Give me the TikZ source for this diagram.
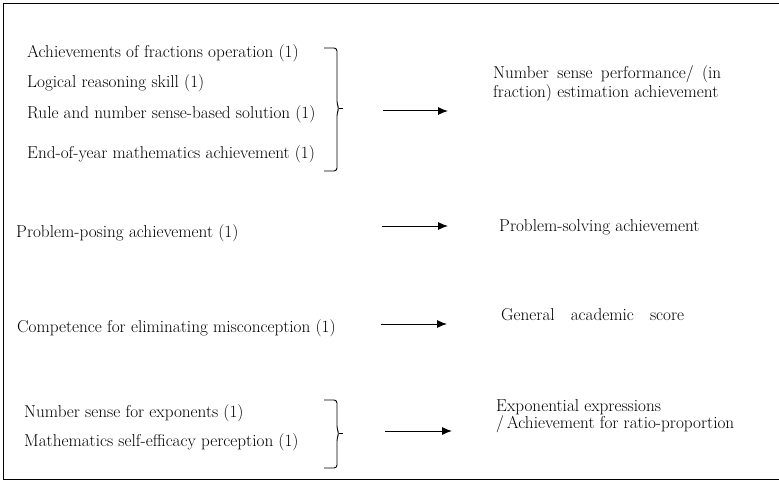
\documentclass[tikz,border=0pt]{standalone}
\usepackage{fontspec}
\usetikzlibrary{arrows.meta, positioning}

\begin{document}
\begin{tikzpicture}[
    x=1pt, y=-1pt,
    txt/.style={anchor=west, inner sep=0pt, align=left,
                font=\fontsize{17.2}{19}\selectfont},
    arr/.style={-{Latex[length=10pt, width=8pt]}, line width=1pt},
    brc/.style={line width=0.9pt, rounded corners=3pt}
]
\useasboundingbox (0,0) rectangle (779,484);
\draw[line width=1pt] (3.5,3.5) rectangle (790,479.5);

% first group
\node[txt] (frac) at (27,53) {Achievements of fractions operation (1)};
\node[txt] (logic) at (27,83) {Logical reasoning skill (1)};
\node[txt] (rule) at (27,114) {Rule and number sense-based solution (1)};
\node[txt] (eoy) at (27,154) {End-of-year mathematics achievement (1)};
\draw[brc] (324,48) -- (337,48) -- (337,104) -- (339,108.5) -- (337,113) -- (337,171) -- (324,171);
\coordinate (tip1) at (339,108.5);
\coordinate (tip1e) at (343,108.5);
\draw[line width=0.9pt] (tip1) -- (tip1e);
\coordinate (arr1s) at (383,111);
\coordinate (arr1e) at (448,111);
\node[txt] (perf) at (493,83.5) {\makebox[228pt][s]{Number sense performance/ (in}\\fraction) estimation achievement};
\draw[arr] (arr1s) -- (arr1e);

% second row
\node[txt] (posing) at (16,233) {Problem-posing achievement (1)};
\coordinate (arr2s) at (382,226);
\coordinate (arr2e) at (448,226);
\node[txt] (solving) at (499,227) {Problem-solving achievement};
\draw[arr] (arr2s) -- (arr2e);

% third row
\node[txt] (compet) at (17,328) {Competence for eliminating misconception (1)};
\coordinate (arr3s) at (381,324);
\coordinate (arr3e) at (447,324);
\node[txt] (general) at (501,315) {\makebox[183pt][s]{General academic score}};
\draw[arr] (arr3s) -- (arr3e);

% last group
\node[txt] (expo) at (24,413) {Number sense for exponents (1)};
\node[txt] (selfeff) at (24,442) {Mathematics self-efficacy perception (1)};
\draw[brc] (324,400) -- (337,400) -- (337,429) -- (339,433.5) -- (337,438) -- (337,468) -- (324,468);
\coordinate (tip2) at (339,433.5);
\coordinate (tip2e) at (343,433.5);
\draw[line width=0.9pt] (tip2) -- (tip2e);
\coordinate (arr4s) at (385,431);
\coordinate (arr4e) at (452,431);
\node[txt] (ratio) at (496,416.5) {Exponential expressions\\[-2pt]/\,Achievement for ratio-proportion};
\draw[arr] (arr4s) -- (arr4e);
\end{tikzpicture}
\end{document}
